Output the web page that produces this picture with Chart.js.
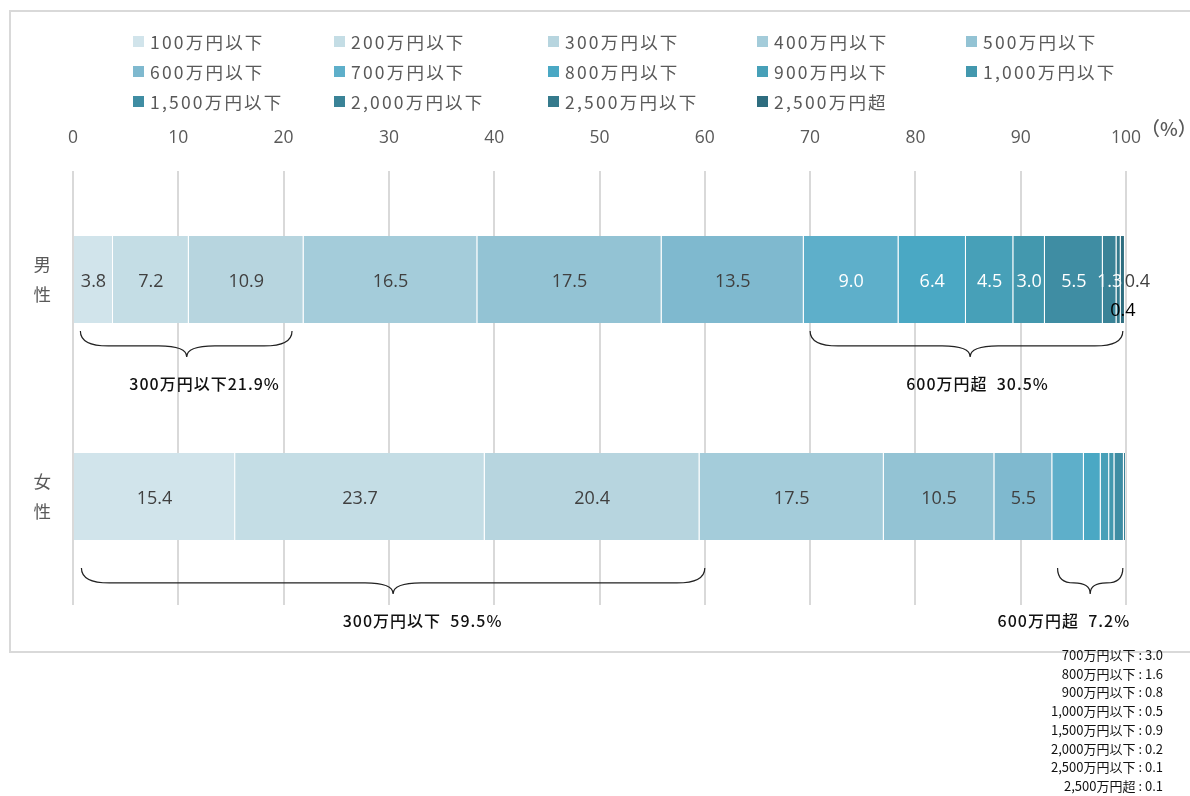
<!DOCTYPE html>
<html lang="ja">
<head>
<meta charset="utf-8">
<title>年収分布（男女別）</title>
<script src="https://cdn.jsdelivr.net/npm/chart.js@4.4.1/dist/chart.umd.min.js"></script>
<style>
  html, body { margin: 0; padding: 0; background: #fff; }
  body { width: 1190px; height: 796px; position: relative; overflow: hidden;
         font-family: "Noto Sans CJK JP", "Noto Sans", sans-serif; }
  #frame { position: absolute; left: 9px; top: 10px; width: 1200px; height: 639px;
           border: 2px solid #d9d9d9; border-right: none; box-sizing: content-box; }
  #wrap { position: absolute; left: 0; top: 0; width: 1190px; height: 796px; }
  #legend { position: absolute; left: 0; top: 28px; width: 1190px; height: 100px; }
  .lg { position: absolute; display: flex; align-items: center; height: 26px;
        font-size: 17.5px; letter-spacing: 2.2px; color: #595959; white-space: nowrap; }
  .lg i { display: inline-block; width: 11px; height: 11px; margin-right: 6px; }
  #unit { position: absolute; left: 1141px; top: 114px; font-size: 19px; font-weight: 500; color: #595959; }
  #notes { position: absolute; right: 27px; top: 646px; text-align: right;
           font-size: 13px; line-height: 18.7px; color: #111; }
</style>
</head>
<body>
<div id="frame"></div>
<div id="wrap"><canvas id="chart"></canvas></div>
<div id="legend"></div>
<div id="unit">（%）</div>
<div id="notes"></div>
<script>
const C = {
  text: "#595959", value: "#404040", grid: "#d9d9d9", ink: "#111111"
};

// 年収区分
const categories = [
  "100万円以下", "200万円以下", "300万円以下", "400万円以下", "500万円以下",
  "600万円以下", "700万円以下", "800万円以下", "900万円以下", "1,000万円以下",
  "1,500万円以下", "2,000万円以下", "2,500万円以下", "2,500万円超"
];
const colors = [
  "#d1e4eb", "#c4dde5", "#b7d5df", "#a4ccda", "#93c3d4",
  "#7fb9cf", "#5eafca", "#4aa8c4", "#47a0b8", "#4398ae",
  "#3f8da3", "#3a8397", "#357a8c", "#2e6d7f"
];
const groups = [["男", "性"], ["女", "性"]];
const male   = [3.8, 7.2, 10.9, 16.5, 17.5, 13.5, 9.0, 6.4, 4.5, 3.0, 5.5, 1.3, 0.4, 0.4];
const female = [15.4, 23.7, 20.4, 17.5, 10.5, 5.5, 3.0, 1.6, 0.8, 0.5, 0.9, 0.2, 0.1, 0.1];
const xTicks = [0, 10, 20, 30, 40, 50, 60, 70, 80, 90, 100];

// 集計ブレース: [group, from, to, tip, text, text position]
const braces = [
  [0, 0.7, 20.8, 10.8, "300万円以下21.9%", 12.5],
  [0, 70.0, 99.7, 85.2, "600万円超  30.5%", 85.9],
  [1, 0.8, 60.0, 30.4, "300万円以下  59.5%", 33.2],
  [1, 93.5, 99.7, 96.6, "600万円超  7.2%", 94.1]
];

// legend (5 columns)
const legendCols = [133, 334, 548, 757, 966];
document.getElementById("legend").innerHTML = categories.map((c, i) => `
  <div class="lg" style="left:${legendCols[i % 5]}px;top:${Math.floor(i / 5) * 30}px">
    <i style="background:${colors[i]}"></i>${c}</div>`).join("");

// female small-share notes
document.getElementById("notes").innerHTML = categories.slice(6)
  .map((c, k) => `${c} : ${female[k + 6].toFixed(1)}`).join("<br>");

const valueLabels = {
  id: "valueLabels",
  afterDatasetsDraw(chart) {
    const ctx = chart.ctx;
    ctx.save();
    ctx.font = "18px 'Open Sans', 'Noto Sans', sans-serif";
    ctx.textBaseline = "middle";
    chart.data.datasets.forEach((ds, i) => {
      const meta = chart.getDatasetMeta(i);
      meta.data.forEach((bar, j) => {
        const v = ds.data[j];
        if (j === 1 && i > 5) return;
        const txt = v.toFixed(1);
        const mid = (bar.x + bar.base) / 2;
        if (j === 0 && i === 12) {
          ctx.fillStyle = C.value; ctx.textAlign = "left";
          ctx.fillText(txt, bar.x + 4, bar.y + 2);
        } else if (j === 0 && i === 13) {
          ctx.fillStyle = "#000"; ctx.textAlign = "center";
          ctx.fillText(txt, bar.x - 2, bar.y + bar.height / 2 - 12);
        } else {
          ctx.fillStyle = i >= 6 ? "#ffffff" : C.value;
          ctx.textAlign = "center";
          ctx.fillText(txt, mid, bar.y + 2);
        }
      });
    });
    ctx.restore();
  }
};

const braceMarks = {
  id: "braceMarks",
  afterDraw(chart) {
    const ctx = chart.ctx, xs = chart.scales.x;
    const meta = chart.getDatasetMeta(0);
    ctx.save();
    ctx.strokeStyle = "#222"; ctx.lineWidth = 1.2;
    braces.forEach(([g, a, b, t, text, tx]) => {
      const bar = meta.data[g];
      const bottom = bar.y + bar.height / 2;
      const top = g === 0 ? bottom + 8 : bottom + 28;
      const yMid = top + 15, yTip = top + 26;
      const x0 = xs.getPixelForValue(a), x1 = xs.getPixelForValue(b), xc = xs.getPixelForValue(t);
      const r = Math.min(28, (xc - x0) / 2), r2 = Math.min(28, (x1 - xc) / 2);
      ctx.beginPath();
      ctx.moveTo(x0, top);
      ctx.quadraticCurveTo(x0, yMid, x0 + r, yMid);
      ctx.lineTo(xc - r, yMid);
      ctx.quadraticCurveTo(xc, yMid, xc, yTip);
      ctx.quadraticCurveTo(xc, yMid, xc + r2, yMid);
      ctx.lineTo(x1 - r2, yMid);
      ctx.quadraticCurveTo(x1, yMid, x1, top);
      ctx.stroke();
      ctx.fillStyle = "#111";
      ctx.font = "500 16px 'Noto Sans CJK JP', sans-serif";
      ctx.letterSpacing = "1px";
      ctx.textAlign = "center"; ctx.textBaseline = "middle";
      ctx.fillText(text, xs.getPixelForValue(tx), yTip + 27);
    });
    ctx.restore();
  }
};

new Chart(document.getElementById("chart"), {
  type: "bar",
  data: {
    labels: groups,
    datasets: categories.map((c, i) => ({
      label: c,
      data: [male[i], female[i]],
      backgroundColor: colors[i],
      borderColor: "rgba(255,255,255,0.4)",
      borderWidth: { left: 0, right: 1, top: 0, bottom: 0 },
      borderSkipped: false,
      barPercentage: 0.4,
      categoryPercentage: 1
    }))
  },
  options: {
    indexAxis: "y",
    responsive: true, maintainAspectRatio: false,
    animation: false,
    layout: { padding: { top: 120, right: 64, bottom: 191, left: 0 } },
    plugins: { legend: { display: false }, tooltip: { enabled: false } },
    scales: {
      x: {
        position: "top", stacked: true, min: 0, max: 100,
        afterFit: s => { s.height = 51; },
        afterBuildTicks: s => { s.ticks = xTicks.map(v => ({ value: v })); },
        grid: { color: C.grid, lineWidth: 2, drawTicks: false },
        border: { display: false },
        ticks: { color: C.text, padding: 22, font: { size: 17.5, family: "'Open Sans', sans-serif" } }
      },
      y: {
        stacked: true,
        afterFit: s => { s.width = 73; },
        grid: { display: false, drawTicks: false },
        border: { display: false },
        ticks: { color: C.text, padding: 22,
                 font: { size: 17.5, family: "'Noto Sans CJK JP', sans-serif", lineHeight: 1.72 } }
      }
    }
  },
  plugins: [valueLabels, braceMarks]
});
</script>
</body>
</html>
